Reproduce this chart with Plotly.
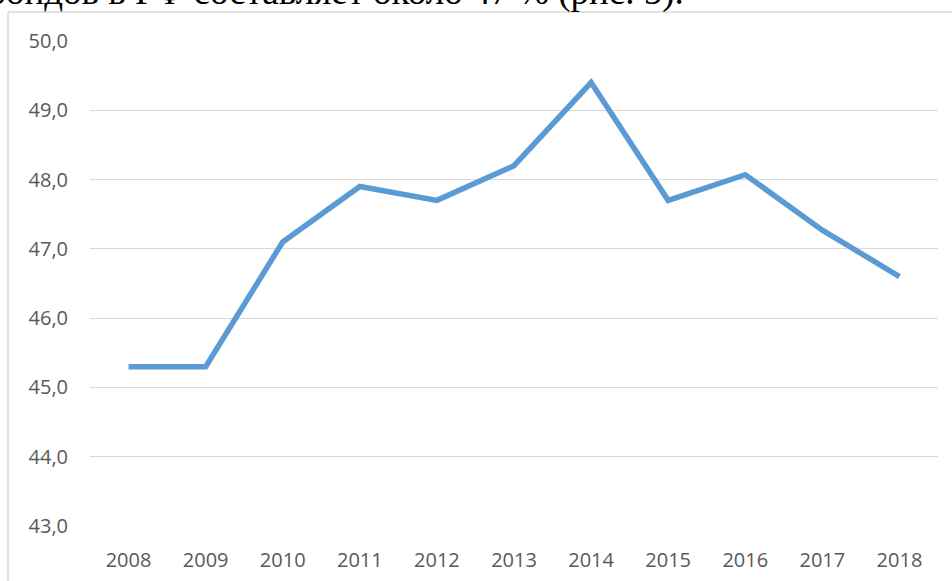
import plotly.graph_objects as go

years = ["2008", "2009", "2010", "2011", "2012", "2013", "2014", "2015", "2016", "2017", "2018"]
values = [45.3, 45.3, 47.1, 47.9, 47.7, 48.2, 49.4, 47.7, 48.07, 47.27, 46.6]
y_ticks = [43, 44, 45, 46, 47, 48, 49, 50]
y_tick_labels = ["43,0", "44,0", "45,0", "46,0", "47,0", "48,0", "49,0", "50,0"]
header_text = "фондов в РФ составляет около 47 % (рис. 5)."

W, H = 952, 581
L, R, T, B = 90, 14, 41, 55
pw, ph = W - L - R, H - T - B

def px_x(x):
    return (x - L) / pw

def px_y(y):
    return (H - B - y) / ph

fig = go.Figure()
fig.add_trace(go.Scatter(
    x=years, y=values, mode="lines",
    line=dict(color="#5B9BD5", width=5.5),
    hoverinfo="skip", showlegend=False,
))

grey = "#595959"
fig.update_layout(
    width=W, height=H,
    margin=dict(l=L, r=R, t=T, b=B, pad=0),
    paper_bgcolor="white", plot_bgcolor="white",
    font=dict(family="Open Sans", size=20, color=grey),
    xaxis=dict(
        type="category", range=[-0.5, 10.5], automargin=False,
        showgrid=False, zeroline=False, showline=False,
        ticks="outside", ticklen=16, tickcolor="rgba(0,0,0,0)",
        tickfont=dict(family="Open Sans", size=20, color=grey),
    ),
    yaxis=dict(
        range=[43, 50], tickvals=y_ticks, ticktext=y_tick_labels, automargin=False,
        showgrid=True, gridcolor="#D9D9D9", gridwidth=1.3,
        zeroline=False, showline=False,
        ticks="outside", ticklen=17, tickcolor="rgba(0,0,0,0)",
        tickfont=dict(family="Open Sans", size=20, color=grey),
    ),
    shapes=[
        dict(type="line", xref="paper", yref="paper", layer="above",
             x0=px_x(8), x1=px_x(960), y0=px_y(12), y1=px_y(12),
             line=dict(color="#D9D9D9", width=1.5)),
        dict(type="line", xref="paper", yref="paper", layer="above",
             x0=px_x(8), x1=px_x(8), y0=px_y(12), y1=px_y(590),
             line=dict(color="#D9D9D9", width=1.5)),
    ],
    annotations=[
        dict(text=header_text, xref="paper", yref="paper",
             x=px_x(686), y=px_y(-8), xanchor="right", yanchor="middle",
             showarrow=False,
             font=dict(family="Liberation Serif", size=37, color="black")),
    ],
)

fig.write_html(
    "out.html",
    config={"displayModeBar": False},
    post_script="document.body.style.margin='0';document.body.style.overflow='hidden';",
)
